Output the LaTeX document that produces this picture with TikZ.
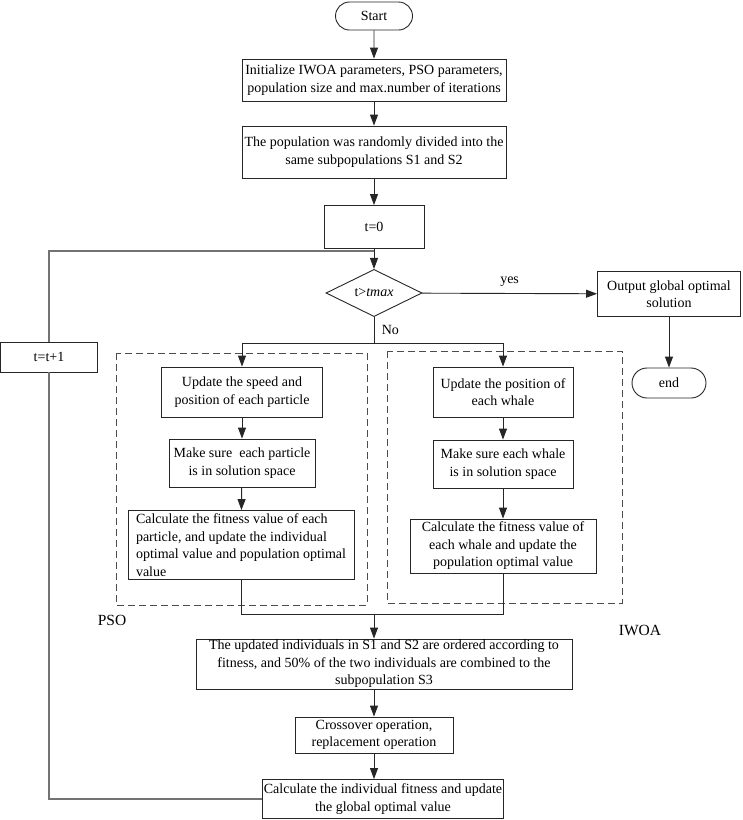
\documentclass[tikz,border=0pt]{standalone}
\usepackage{fontspec}
\setmainfont{Liberation Serif}
\usetikzlibrary{shapes.geometric,shapes.misc,arrows.meta,calc}
\begin{document}
\begin{tikzpicture}[x=1pt,y=-1pt,
 every node/.style={font=\fontsize{14}{17.5}\selectfont},
 box/.style={draw=black!85, line width=0.9pt, fill=white, align=center, inner sep=1pt},
 term/.style={box, rounded rectangle},
 dec/.style={draw=black!85, line width=0.9pt, diamond, inner sep=0pt, fill=white},
 grp/.style={draw=black!70, dash pattern=on 7pt off 4pt, line width=0.9pt},
 conn/.style={draw=black!85, line width=0.9pt},
 arr/.style={conn, -{Triangle[length=11pt,width=8pt]}},
 loopline/.style={draw=black!55, line width=1.3pt},
 lbl/.style={font=\fontsize{15.5}{18}\selectfont}]
\useasboundingbox (0,0) rectangle (743,820);
\fill[white] (0,0) rectangle (743,820);
% groups
\draw[grp] (116,353) rectangle (367,605);
\draw[grp] (387,351) rectangle (622,603);
% nodes
\node[term, minimum width=79pt, minimum height=28pt] (start) at (374,16) {Start};
\node[box, minimum width=264pt, minimum height=42pt] (init) at (374,80) {Initialize IWOA parameters, PSO parameters,\\population size and max.number of iterations};
\node[box, minimum width=264pt, minimum height=52pt] (pop) at (374,152) {The population was randomly divided into the\\same subpopulations S1 and S2};
\node[box, minimum width=100pt, minimum height=43pt] (t0) at (374,227) {t=0};
\node[dec, minimum width=96pt, minimum height=38pt] (dec) at (374,293) {t\textgreater\textit{tmax}};
\node[box, minimum width=143pt, minimum height=45pt] (out) at (669,294) {Output global optimal\\solution};
\node[term, minimum width=76pt, minimum height=30pt] (end) at (669,383) {end};
\node[box, minimum width=97pt, minimum height=30pt] (tt1) at (49,357) {t=t+1};
\node[box, minimum width=161pt, minimum height=50pt] (p1) at (242,392) {Update the speed and\\position of each particle};
\node[box, minimum width=146pt, minimum height=48pt] (p2) at (242,463) {Make sure\ \ each particle\\is in solution space};
\node[box, minimum width=226pt, minimum height=69pt, align=left] (p3) at (241,545) {Calculate the fitness value of each\\particle, and update the individual\\optimal value and population optimal\\value};
\node[box, minimum width=140pt, minimum height=50pt] (w1) at (503,392) {Update the position of\\each whale};
\node[box, minimum width=140pt, minimum height=48pt] (w2) at (503,464) {Make sure each whale\\is in solution space};
\node[box, minimum width=186pt, minimum height=54pt] (w3) at (503,546) {Calculate the fitness value of\\each whale and update the\\population optimal value};
\node[box, minimum width=376pt, minimum height=50pt] (s3) at (384,664) {The updated individuals in S1 and S2 are ordered according to\\fitness, and 50\% of the two individuals are combined to the\\subpopulation S3};
\node[box, minimum width=158pt, minimum height=36pt] (cross) at (374,735) {Crossover operation,\\replacement operation};
\node[box, minimum width=220pt, minimum height=39pt] (final) at (383,799) {Calculate the individual fitness and update\\the global optimal value};
% junctions
\coordinate (j1) at (374,251);
\coordinate (j2) at (374,343);
\coordinate (j3) at (374,614);
% connectors
\draw[arr] (start) -- (init);
\draw[arr] (init) -- (pop);
\draw[arr] (pop) -- (t0);
\draw[arr] (t0) -- (dec);
\draw[arr] (dec) -- (out) node[midway, above=3pt] {yes};
\draw[arr] (out) -- (end);
\draw[conn] (dec) -- (j2) node[pos=0.5, right=4pt] {No};
\draw[arr] (j2) -| (p1);
\draw[arr] (j2) -| (w1);
\draw[arr] (p1) -- (p2);
\draw[arr] (p2) -- (p3);
\draw[arr] (w1) -- (w2);
\draw[arr] (w2) -- (w3);
\draw[conn] (p3) |- (j3);
\draw[conn] (w3) |- (j3);
\draw[arr] (j3) -- (j3 |- s3.north);
\draw[arr] (s3.south -| j3) -- (j3 |- cross.north);
\draw[arr] (cross) -- (j3 |- final.north);
\draw[loopline] (final.west) -- (final.west -| tt1) -- (tt1);
\draw[loopline] (tt1) -- (tt1 |- j1) -- (j1);
% labels
\node[lbl] (lpso) at (112,620) {PSO};
\node[lbl] (liwoa) at (640,630) {IWOA};
\end{tikzpicture}
\end{document}
